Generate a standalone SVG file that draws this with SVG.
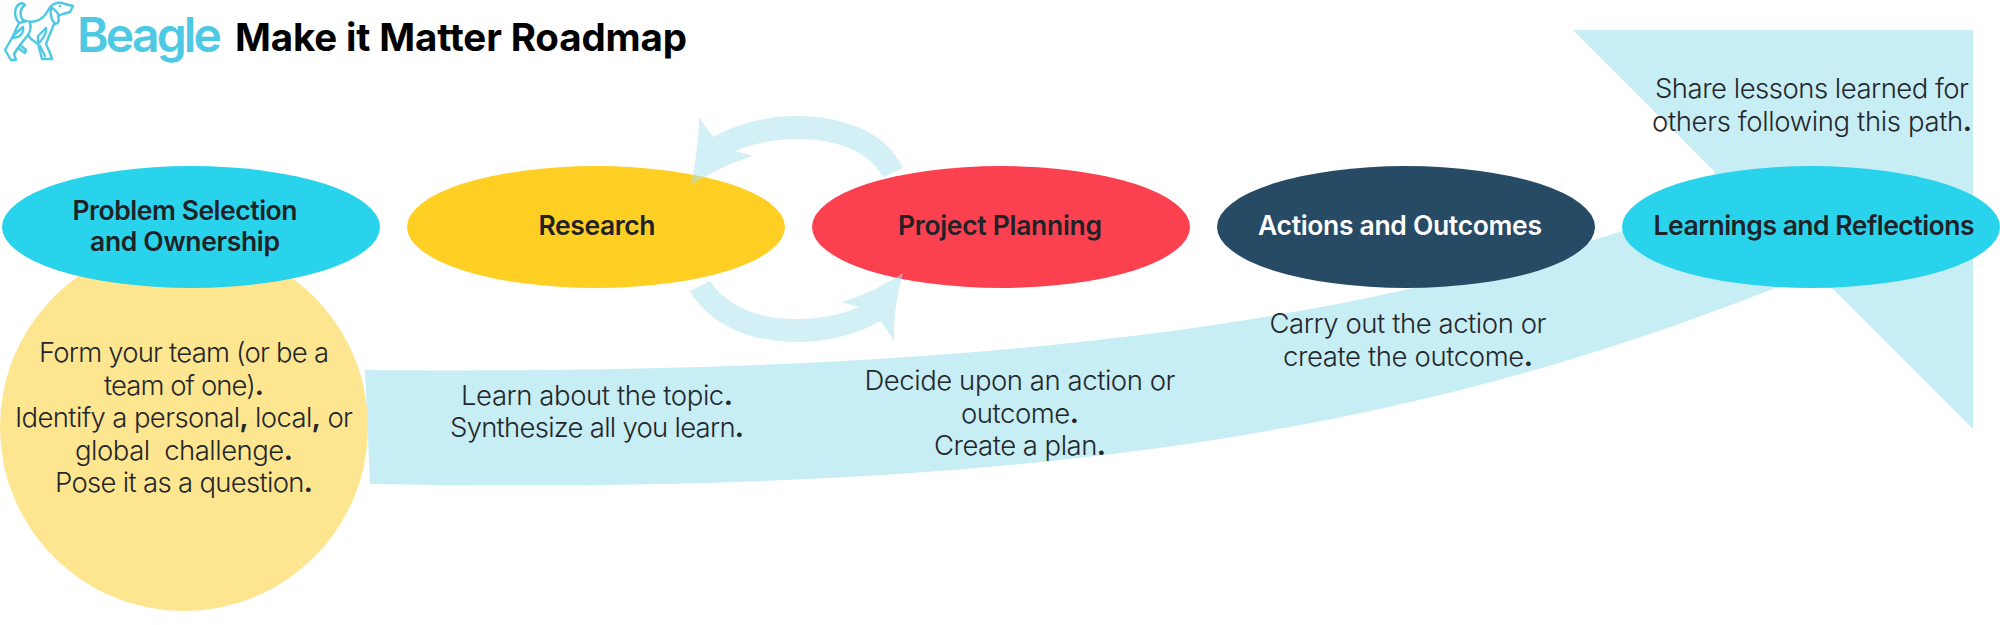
<svg xmlns="http://www.w3.org/2000/svg" width="2000" height="625" viewBox="0 0 2000 625">
<style>
text{font-family:"Inter","Liberation Sans",sans-serif}
.l{font-size:26.5px;font-weight:600;fill:#1f2328;text-anchor:middle}
.t{font-size:27.5px;font-weight:300;fill:#24282c;text-anchor:middle;white-space:pre}
.t tspan{font-weight:700}
.flow{fill:#c7edf5}
.loop{fill:#a9e2ee;opacity:.52}
.dog{fill:none;stroke:#4ec9e4;stroke-width:2.4;stroke-linejoin:round;stroke-linecap:round}
</style>
<g id="logo">
<path class="dog" d="M19,23C13,16 14,5 22,3L25,5C20,8 19,15 23,20C31,23 39,22 45,15L51,6C55,2 61,2 65,4L73,6L70,12L63,14L58,16C60,21 58,24 54,24L49,36L46,44L50,53L52,59H42L38,44L31,39L28,35L20,45L26,50L25,53L18,48L14,54L16,60L11,60L5,50L12,38L19,23"/>
<path class="dog" d="M51,7C50,13 51,21 55,23M59,15C56,11 53,8 51,7M19,23L26,21M28,35C31,30 31,26 30,23M23,27L14,35L12,38L18,37C22,35 24,31 23,27M46,28L38,36L38,44C42,40 47,34 46,28M40,46L45,56M20,45L14,54"/>
<circle cx="60" cy="6" r="1.3" fill="#4ec9e4"/>
<text x="77" y="52" font-size="48" font-weight="600" fill="#4ec9e4" textLength="145">Beagle</text>
</g>
<text id="title" x="235" y="51" font-size="38.5" font-weight="700" fill="#000" textLength="452">Make it Matter Roadmap</text>
<g id="connectors">
<path class="flow" d="M365,370C900,375 1300,340 1640,225L1700,195L1715,172L1573,30H1973V429L1833,289L1790,282C1400,440 1000,495 370,484Z"/>
</g>
<g id="n0-detail"><circle cx="184" cy="427" r="184" fill="#fee58f"/>
<text class="t" x="184" y="362" textLength="290">Form your team (or be a</text>
<text class="t" x="184" y="394.5" textLength="160">team of one)<tspan>.</tspan></text>
<text class="t" x="184" y="427" textLength="338">Identify a personal<tspan>,</tspan> local<tspan>,</tspan> or</text>
<text class="t" x="184" y="459.5" textLength="218">global  challenge<tspan>.</tspan></text>
<text class="t" x="184" y="492" textLength="258">Pose it as a question<tspan>.</tspan></text>
</g>
<g id="n1"><ellipse cx="191" cy="227" rx="189" ry="61" fill="#29d3eb"/>
<text class="l" x="185" y="220" textLength="225">Problem Selection</text>
<text class="l" x="185" y="251" textLength="190">and Ownership</text></g>
<g id="n2"><ellipse cx="596" cy="227" rx="189" ry="61" fill="#ffcf24"/>
<text class="l" x="597" y="235" textLength="117">Research</text>
<text class="t" x="597" y="405" textLength="272">Learn about the topic<tspan>.</tspan></text>
<text class="t" x="597" y="437" textLength="294">Synthesize all you learn<tspan>.</tspan></text></g>
<g id="n3"><ellipse cx="1001" cy="227" rx="189" ry="61" fill="#fb4050"/>
<text class="l" x="1000" y="235" textLength="204">Project Planning</text>
<text class="t" x="1020" y="390" textLength="311">Decide upon an action or</text>
<text class="t" x="1020" y="423" textLength="118">outcome<tspan>.</tspan></text>
<text class="t" x="1020" y="455" textLength="172">Create a plan<tspan>.</tspan></text></g>
<g id="n4"><ellipse cx="1406" cy="227" rx="189" ry="61" fill="#284b65"/>
<text class="l" x="1400" y="235" textLength="284" style="fill:#fff">Actions and Outcomes</text>
<text class="t" x="1408" y="333" textLength="277">Carry out the action or</text>
<text class="t" x="1408" y="366" textLength="250">create the outcome<tspan>.</tspan></text></g>
<g id="n5"><ellipse cx="1811" cy="227" rx="189" ry="61" fill="#29d3eb"/>
<text class="l" x="1814" y="235" textLength="321">Learnings and Reflections</text>
<text class="t" x="1812" y="98" textLength="314">Share lessons learned for</text>
<text class="t" x="1812" y="131" textLength="320">others following this path<tspan>.</tspan></text></g>
<g id="loops">
<path class="loop" d="M903,168C885,130 840,116 797,116C765,116 737,124 713,137L699,117C699,140 695,165 691,185C710,173 730,163 753,156L735,151C755,143 775,139 797,139C835,139 868,150 883,177Z"/>
<path class="loop" d="M690,291C710,325 750,342 797,342C827,342 855,335 881,321L894,341C893,320 897,295 903,273C885,285 865,295 841,302L859,307C840,315 820,319 797,319C760,319 728,308 710,281Z"/>
</g>
</svg>
